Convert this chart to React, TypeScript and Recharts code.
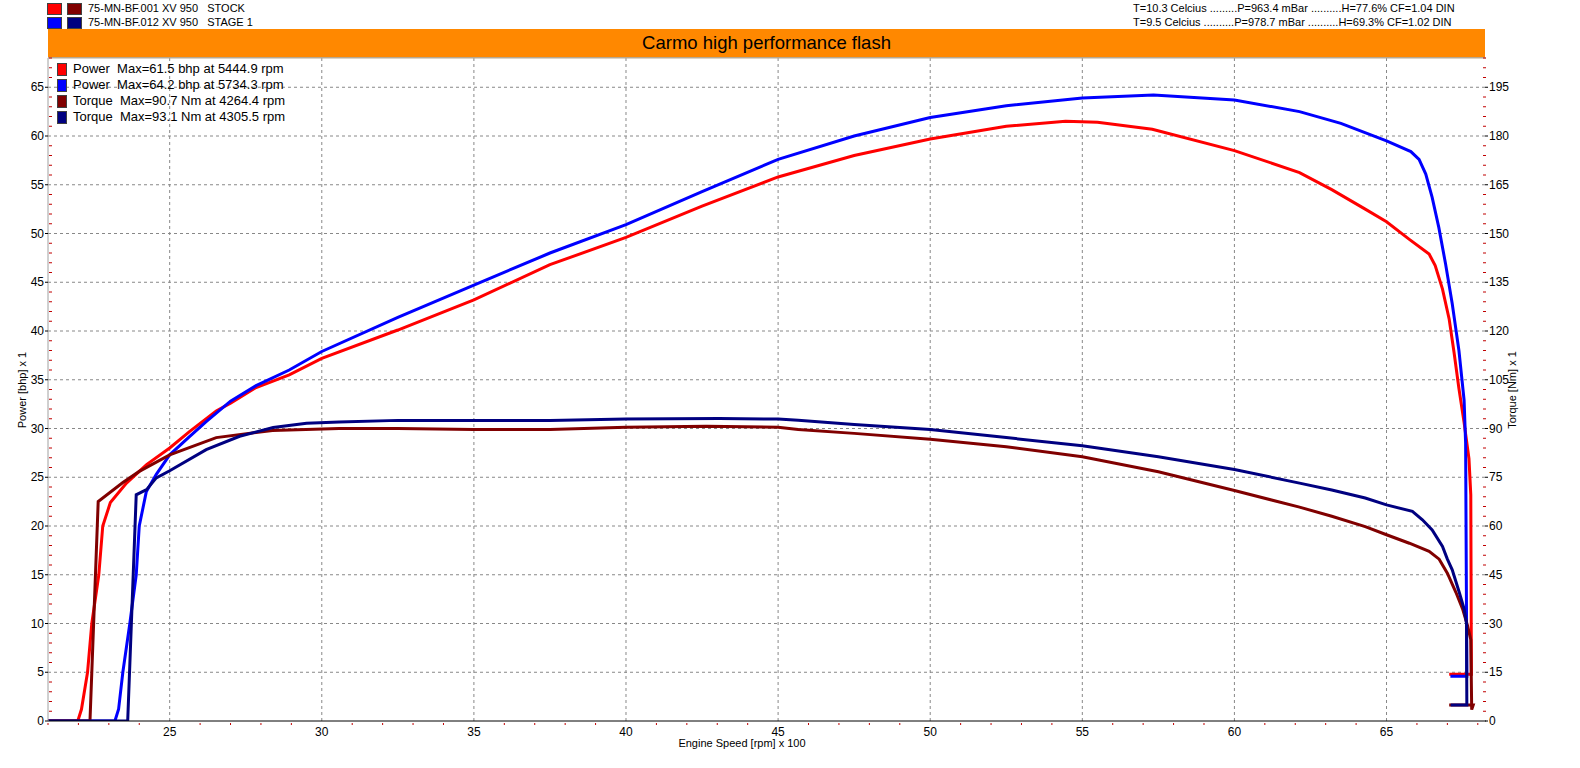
import React from "react";
import { LineChart, Line, XAxis, YAxis, ReferenceLine } from "recharts";

// [engine speed (rpm x 100), value]
const stockPower = [
  [21, 0], [21.98, 0], [22.1, 1.2], [22.3, 5], [22.44, 10], [22.67, 15], [22.8, 20], [23.05, 22.4],
  [23.58, 24.4], [24.24, 26.3], [25, 28], [25.66, 29.7], [26.53, 31.8], [27, 32.6], [27.84, 34.2],
  [28.93, 35.5], [30, 37.2], [32.5, 40.1], [35, 43.2], [37.5, 46.8], [40, 49.6], [42.5, 52.8],
  [45, 55.8], [47.5, 58.0], [50, 59.7], [52.5, 61.0], [54.45, 61.5], [55.5, 61.4], [57.3, 60.7],
  [60, 58.5], [62.14, 56.25], [63.2, 54.5], [64.3, 52.5], [65, 51.2], [65.75, 49.4], [66.4, 47.9],
  [66.6, 46.7], [66.84, 44.3], [67.06, 41.2], [67.22, 37.8], [67.38, 34.1], [67.55, 30.6],
  [67.71, 26.9], [67.77, 23.2], [67.79, 4.8], [67.06, 4.8],
];

const stagePower = [
  [21, 0], [23.2, 0], [23.32, 1.2], [23.46, 5], [23.69, 10], [23.9, 15], [24.0, 20], [24.23, 23.5],
  [24.56, 25.3], [25, 27.3], [25.66, 29.2], [26.2, 30.7], [27, 32.8], [27.84, 34.4], [28.93, 36.0],
  [30, 37.9], [32.5, 41.4], [35, 44.7], [37.5, 48.0], [40, 50.9], [42.5, 54.3], [45, 57.6],
  [47.5, 60.0], [50, 61.9], [52.5, 63.1], [55, 63.9], [57.34, 64.2], [60, 63.7], [62.14, 62.5],
  [63.5, 61.3], [65, 59.5], [65.8, 58.4], [66.07, 57.6], [66.29, 56.1], [66.5, 53.7], [66.72, 50.6],
  [66.94, 46.9], [67.16, 42.8], [67.38, 38.0], [67.55, 32.9], [67.6, 28.5], [67.64, 4.6], [67.1, 4.6],
];

const stockTorque = [
  [21, 0], [22.38, 0], [22.65, 67.5], [23.45, 73.3], [24.0, 76.8], [25, 81.9], [26.53, 87.2],
  [28.38, 89.4], [30.57, 90.0], [32.5, 90.0], [35, 89.7], [37.5, 89.7], [40, 90.4], [42.64, 90.7],
  [45, 90.4], [45.66, 89.7], [47.5, 88.5], [50, 86.7], [52.5, 84.4], [55, 81.3], [57.5, 76.7],
  [60, 70.9], [62.14, 65.8], [63.2, 63.0], [64.3, 59.8], [65, 57.3], [65.75, 54.7], [66.4, 52.2],
  [66.73, 49.8], [67.0, 45.5], [67.28, 39.6], [67.5, 34.5], [67.66, 29.4], [67.77, 25],
  [67.8, 3.5], [67.85, 4.9], [67.06, 4.9],
];

const stageTorque = [
  [21, 0], [23.62, 0], [23.9, 69.6], [24.24, 71.2], [24.56, 74.8], [25, 77.0], [26.2, 83.5],
  [27.3, 87.6], [28.4, 90.3], [29.5, 91.6], [30.57, 92.0], [32.5, 92.5], [35, 92.5], [37.5, 92.5],
  [40, 92.9], [43.06, 93.1], [45, 92.9], [45.66, 92.55], [47.5, 91.2], [50, 89.7], [52.5, 87.2],
  [55, 84.7], [57.5, 81.3], [60, 77.4], [62.14, 73.2], [63.2, 71.1], [64.3, 68.6], [65, 66.5],
  [65.85, 64.5], [66.18, 61.9], [66.5, 58.8], [66.84, 53.7], [67.0, 49.8], [67.16, 46.5],
  [67.39, 39.6], [67.55, 34.5], [67.63, 30], [67.64, 4.9], [67.11, 4.9],
];

const xMajor = [25, 30, 35, 40, 45, 50, 55, 60, 65];
const powerMajor = [5, 10, 15, 20, 25, 30, 35, 40, 45, 50, 55, 60, 65];
const xTicks = Array.from({ length: 48 }, (_, i) => 21 + i);
const powerTicks = Array.from({ length: 69 }, (_, i) => i);
const torqueTicks = Array.from({ length: 69 }, (_, i) => i * 3);

const runs = [
  { color: "#FF0000", dark: "#800000", label: "75-MN-BF.001 XV 950   STOCK",
    weather: "T=10.3 Celcius .........P=963.4 mBar ..........H=77.6% CF=1.04 DIN" },
  { color: "#0000FF", dark: "#000080", label: "75-MN-BF.012 XV 950   STAGE 1",
    weather: "T=9.5 Celcius ..........P=978.7 mBar ..........H=69.3% CF=1.02 DIN" },
];

const maxLegend = [
  { color: "#FF0000", text: "Power  Max=61.5 bhp at 5444.9 rpm" },
  { color: "#0000FF", text: "Power  Max=64.2 bhp at 5734.3 rpm" },
  { color: "#800000", text: "Torque  Max=90.7 Nm at 4264.4 rpm" },
  { color: "#000080", text: "Torque  Max=93.1 Nm at 4305.5 rpm" },
];

const FONT = "'Liberation Sans', Arial, sans-serif";
const toPoints = (d: number[][]) => d.map(([x, y]) => ({ x, y }));

const LeftTick = (props: any) => {
  const { x, y, payload } = props;
  const v = payload.value;
  if (v % 5 === 0) {
    return (
      <g>
        <line x1={x - 3} x2={x} y1={y} y2={y} stroke="#000" />
        <text x={x - 4} y={y} dy={4} textAnchor="end" fontSize={12} fontFamily={FONT} fill="#000">{v}</text>
      </g>
    );
  }
  return <line x1={x + 1} x2={x + 4} y1={y} y2={y} stroke="#c00000" />;
};

const RightTick = (props: any) => {
  const { x, y, payload } = props;
  const v = payload.value;
  if (v % 15 === 0) {
    return (
      <g>
        <line x1={x - 1} x2={x + 2} y1={y} y2={y} stroke="#000" />
        <text x={x + 3} y={y} dy={4} textAnchor="start" fontSize={12} fontFamily={FONT} fill="#000">{v}</text>
      </g>
    );
  }
  return <line x1={x - 3} x2={x} y1={y} y2={y} stroke="#c00000" />;
};

const BottomTick = (props: any) => {
  const { x, y, payload } = props;
  const v = payload.value;
  if (v % 5 === 0) {
    return (
      <text x={x} y={y + 15} textAnchor="middle" fontSize={12} fontFamily={FONT} fill="#000">{v}</text>
    );
  }
  return <line x1={x} x2={x} y1={y + 2} y2={y + 4} stroke="#c00000" />;
};

const swatch = (color: string, left: number, top: number, w: number, h: number) => (
  <div style={{ position: "absolute", left, top, width: w, height: h, background: color, border: "1px solid #404040", boxSizing: "border-box" }} />
);

export default function App() {
  return (
    <div style={{ position: "absolute", left: 0, top: 0, width: 1580, height: 768, background: "#fff", fontFamily: FONT, overflow: "hidden" }}>
      {runs.map((r, i) => (
        <React.Fragment key={r.label}>
          {swatch(r.color, 47, 3 + i * 14, 15, 12)}
          {swatch(r.dark, 67, 3 + i * 14, 15, 12)}
          <div style={{ position: "absolute", left: 88, top: 1 + i * 14, fontSize: 11, whiteSpace: "pre", lineHeight: "14px" }}>{r.label}</div>
          <div style={{ position: "absolute", left: 1133, top: 1 + i * 14, fontSize: 11, whiteSpace: "pre", lineHeight: "14px" }}>{r.weather}</div>
        </React.Fragment>
      ))}
      <div style={{ position: "absolute", left: 48, top: 29, width: 1437, height: 28, background: "#FF8800", borderBottom: "1px solid #b8a890", display: "flex", alignItems: "center", justifyContent: "center", fontSize: 18.5 }}>
        Carmo high performance flash
      </div>

      <LineChart width={1580} height={768} data={[]} margin={{ top: 58, right: 34, bottom: 0, left: 0 }} style={{ position: "absolute", left: 0, top: 0 }}>
        <XAxis xAxisId={0} type="number" dataKey="x" domain={[21, 68.27]} allowDataOverflow ticks={xTicks} interval={0}
          tick={<BottomTick />} tickSize={0} tickMargin={0} height={47} axisLine={{ stroke: "#000" }} tickLine={false} />
        <YAxis yAxisId="left" type="number" domain={[0, 68]} allowDataOverflow ticks={powerTicks} interval={0}
          tick={<LeftTick />} tickSize={0} tickMargin={0} width={48} axisLine={{ stroke: "#a0a0a0" }} tickLine={false} />
        <YAxis yAxisId="right" orientation="right" type="number" domain={[0, 204]} allowDataOverflow ticks={torqueTicks} interval={0}
          tick={<RightTick />} tickSize={0} tickMargin={0} width={60} axisLine={false} tickLine={false} />
        {xMajor.map((v) => (
          <ReferenceLine key={"gx" + v} x={v} xAxisId={0} yAxisId="left" stroke="#888" strokeDasharray="3 3" />
        ))}
        {powerMajor.map((v) => (
          <ReferenceLine key={"gy" + v} y={v} xAxisId={0} yAxisId="left" stroke="#888" strokeDasharray="3 3" />
        ))}
        <ReferenceLine y={68} xAxisId={0} yAxisId="left" stroke="#b8a890" />
        <Line data={toPoints(stockPower)} dataKey="y" xAxisId={0} yAxisId="left" type="linear" stroke="#FF0000" strokeWidth={3} dot={false} isAnimationActive={false} />
        <Line data={toPoints(stagePower)} dataKey="y" xAxisId={0} yAxisId="left" type="linear" stroke="#0000FF" strokeWidth={3} dot={false} isAnimationActive={false} />
        <Line data={toPoints(stockTorque)} dataKey="y" xAxisId={0} yAxisId="right" type="linear" stroke="#800000" strokeWidth={3} dot={false} isAnimationActive={false} />
        <Line data={toPoints(stageTorque)} dataKey="y" xAxisId={0} yAxisId="right" type="linear" stroke="#000080" strokeWidth={3} dot={false} isAnimationActive={false} />
      </LineChart>

      {maxLegend.map((m, i) => (
        <React.Fragment key={m.text}>
          {swatch(m.color, 57, 63 + i * 16, 10, 13)}
          <div style={{ position: "absolute", left: 73, top: 61 + i * 16, fontSize: 13, whiteSpace: "pre", lineHeight: "16px" }}>{m.text}</div>
        </React.Fragment>
      ))}

      <div style={{ position: "absolute", left: 22, top: 390, transform: "translate(-50%, -50%) rotate(-90deg)", fontSize: 11, whiteSpace: "nowrap" }}>Power [bhp] x 1</div>
      <div style={{ position: "absolute", left: 1512, top: 390, transform: "translate(-50%, -50%) rotate(-90deg)", fontSize: 11, whiteSpace: "nowrap" }}>Torque [Nm] x 1</div>
      <div style={{ position: "absolute", left: 742, top: 743, transform: "translate(-50%, -50%)", fontSize: 11, whiteSpace: "nowrap" }}>Engine Speed [rpm] x 100</div>
    </div>
  );
}
